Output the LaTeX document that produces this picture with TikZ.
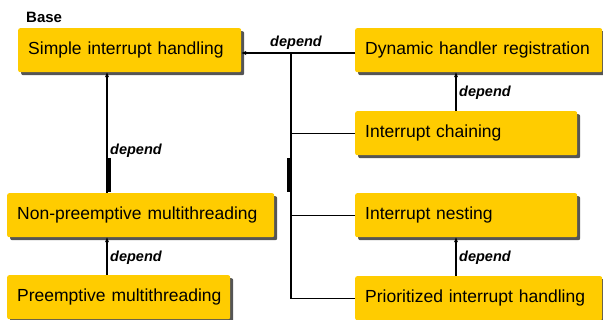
\documentclass[tikz,border=0pt]{standalone}
\usepackage{fontspec}
\setmainfont{Liberation Sans}
\usetikzlibrary{positioning, arrows.meta, shadows}

\definecolor{boxyellow}{RGB}{255,204,0}
\definecolor{shadowgray}{RGB}{85,85,85}

\begin{document}
\begin{tikzpicture}[x=1pt, y=-1pt, >={Stealth[length=5pt,width=4pt]},
  feature/.style={fill=boxyellow, rounded corners=2pt, anchor=north west,
    minimum height=44pt, inner xsep=10pt, inner ysep=0pt, align=left,
    font=\fontsize{17.5}{20}\selectfont,
    drop shadow={shadow xshift=3pt, shadow yshift=-3pt, fill=shadowgray, opacity=1}},
  deplabel/.style={font=\fontsize{14.5}{16}\selectfont\bfseries\itshape, inner sep=0pt},
  link/.style={line width=1.2pt}]

  \useasboundingbox (0,0) rectangle (603,320);

  % Blocks
  \node[font=\fontsize{15}{18}\selectfont\bfseries, anchor=west, inner sep=0pt] (base) at (26,17) {Base};
  \node[feature, text width=203pt] (simple) at (18,28) {Simple interrupt handling};
  \node[feature, text width=247pt] (nonpre) at (7,193) {Non-preemptive multithreading};
  \node[feature, text width=203pt] (pre) at (7,275) {\mbox{Preemptive multithreading}};
  \node[feature, text width=227pt] (dynamic) at (355,28) {\mbox{Dynamic handler registration}};
  \node[feature, text width=202pt] (chaining) at (355,111) {Interrupt chaining};
  \node[feature, text width=202pt] (nesting) at (355,193) {Interrupt nesting};
  \node[feature, text width=227pt] (prio) at (355,276) {\mbox{Prioritized interrupt handling}};

  % Bus lines
  \coordinate (bustop) at (291,53);
  \coordinate (leftbus) at (107,0);
  \coordinate (rightbus) at (456,0);

  % Arrows and labels
  \draw[link,->] (dynamic.west |- bustop) -- (simple.east |- bustop);
  \draw[link] (bustop) |- (prio.west);
  \draw[link] (bustop |- chaining.west) -- (chaining.west);
  \draw[link] (bustop |- nesting.west) -- (nesting.west);
  \draw[link,->] (leftbus |- nonpre.north) -- (leftbus |- simple.south);
  \draw[link,->] (leftbus |- pre.north) -- (leftbus |- nonpre.south);
  \draw[link,->] (rightbus |- chaining.north) -- (rightbus |- dynamic.south);
  \draw[link,->] (rightbus |- prio.north) -- (rightbus |- nesting.south);
  \draw[line width=4pt] (109,158) -- (109,192);
  \draw[line width=4pt] (289,158) -- (289,192);

  \node[deplabel] (dep1) at (296,43) {depend};
  \node[deplabel, anchor=west] (dep2) at (110,151) {depend};
  \node[deplabel, anchor=west] (dep3) at (110,258) {depend};
  \node[deplabel, anchor=west] (dep4) at (459,93) {depend};
  \node[deplabel, anchor=west] (dep5) at (459,258) {depend};

\end{tikzpicture}
\end{document}
